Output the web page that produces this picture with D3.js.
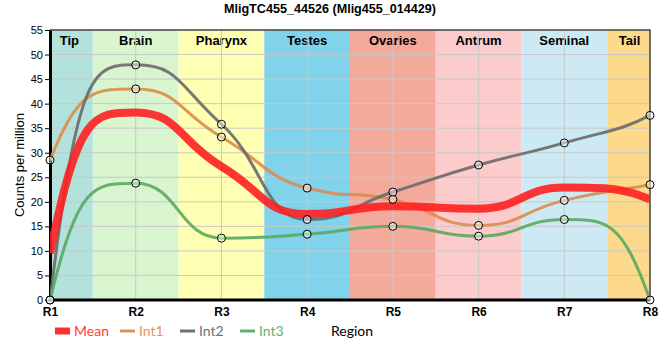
<!DOCTYPE html>
<html><head><meta charset="utf-8">
<script src="https://cdn.jsdelivr.net/npm/d3@7"></script>
<style>body{margin:0;background:#fff}svg{display:block}</style>
</head><body><svg id="c" width="660" height="360"></svg>
<script>
const regions = ["R1","R2","R3","R4","R5","R6","R7","R8"];
const bandNames = ["Tip","Brain","Pharynx","Testes","Ovaries","Antrum","Seminal","Tail"];
const bandColors = ["#b3e2dc","#d9f5cf","#ffffb3","#80d3ea","#f4aa9b","#fccbcb","#cdeaf4","#fdd98b"];
const meanVals = [9.5, 38.2, 27.2, 17.5, 19.1, 18.6, 22.9, 20.5];
const int1Vals = [28.5, 43.0, 33.2, 22.8, 20.5, 15.2, 20.3, 23.5];
const int2Vals = [0, 47.9, 35.8, 16.4, 22.0, 27.5, 32.0, 37.6];
const int3Vals = [0, 23.8, 12.6, 13.4, 15.0, 13.0, 16.4, 0];
const yTicks = [0,5,10,15,20,25,30,35,40,45,50,55];

// smooth curve: flat tangents at local extremes, control points at half spacing
function curveSmooth(context) {
  return {
    lineStart(){ this._p = []; },
    point(x, y){ this._p.push([x, y]); },
    lineEnd(){
      const p = this._p, n = p.length, k = 0.5;
      if (!n) return;
      context.moveTo(p[0][0], p[0][1]);
      if (n < 3) { for (let i = 1; i < n; i++) context.lineTo(p[i][0], p[i][1]); return; }
      const Lc = [], Rc = [];
      for (let i = 1; i < n - 1; i++) {
        const a = p[i-1], b = p[i], c = p[i+1];
        const d0 = b[1] - a[1], d1 = c[1] - b[1];
        const hl = b[0] - a[0], hr = c[0] - b[0];
        let m = 0;
        if (d0 * d1 > 0) {
          m = (c[1] - a[1]) / (c[0] - a[0]);
          const lim = Math.min(Math.abs(d0) / (k*hl), Math.abs(d1) / (k*hr));
          if (Math.abs(m) > lim) m = Math.sign(m) * lim;
        }
        Lc[i] = [b[0] - k*hl, b[1] - k*hl*m];
        Rc[i] = [b[0] + k*hr, b[1] + k*hr*m];
      }
      for (let i = 1; i < n; i++) {
        const a = p[i-1], b = p[i], h = b[0] - a[0];
        let c1, c2;
        if (i === 1) { c2 = Lc[1]; c1 = [a[0] + h/3, c2[1]]; }
        else c1 = Rc[i-1];
        if (i === n - 1) { c2 = [b[0] - h/3, c1[1]]; }
        else if (i !== 1) c2 = Lc[i];
        context.bezierCurveTo(c1[0], c1[1], c2[0], c2[1], b[0], b[1]);
      }
    },
    areaStart(){}, areaEnd(){}
  };
}

const svg = d3.select("#c");
const L = 50, R = 650, T = 30, B = 300;
const x = d3.scalePoint().domain(regions).range([L, R]);
const step = x.step();
const y = d3.scaleLinear().domain([0,55]).range([B, T]);
const FONT = "Liberation Sans, Arial, sans-serif";

// bands
bandNames.forEach((n,i)=>{
  const c = x(regions[i]);
  const x0 = Math.max(L, c - step/2), x1 = Math.min(R, c + step/2);
  svg.append("rect").attr("x",x0).attr("y",T).attr("width",x1-x0).attr("height",B-T).attr("fill",bandColors[i]);
  const lx = i===0 ? (x0+x1)/2-2 : (i===7 ? (x0+x1)/2+1 : c);
  svg.append("text").attr("x",lx).attr("y",T+15).attr("text-anchor","middle")
    .attr("font-family",FONT).attr("font-weight","bold").attr("font-size",13).text(n);
});

// grid
svg.append("g").selectAll("line").data(yTicks).join("line")
  .attr("x1",L).attr("x2",R).attr("y1",d=>y(d)).attr("y2",d=>y(d)).attr("stroke","#c8c8c8").attr("stroke-width",1);
svg.append("g").selectAll("line").data(regions).join("line")
  .attr("y1",T).attr("y2",B).attr("x1",d=>x(d)).attr("x2",d=>x(d)).attr("stroke","#c8c8c8").attr("stroke-width",1);

// frame
svg.append("rect").attr("x",L).attr("y",T).attr("width",R-L).attr("height",B-T).attr("fill","none").attr("stroke","#000").attr("stroke-width",1);

// axes
const yAxis = svg.append("g").attr("transform",`translate(${L},0)`)
  .call(d3.axisLeft(y).tickValues(yTicks).tickSize(5).tickSizeOuter(0));
yAxis.select(".domain").attr("stroke-width",3);
yAxis.selectAll("text").attr("font-family",FONT).attr("font-size",11).attr("fill","#000").attr("dx","1");
const xAxis = svg.append("g").attr("transform",`translate(0,${B})`)
  .call(d3.axisBottom(x).tickSize(0).tickSizeOuter(0).tickPadding(7));
xAxis.select(".domain").attr("stroke-width",3).attr("d",`M${L-1.5},0H${R}`);
xAxis.selectAll("text").attr("font-family",FONT).attr("font-weight","bold").attr("font-size",12).attr("fill","#000");

const line = d3.line().x((d,i)=>x(regions[i])).y(d=>y(d)).curve(curveSmooth);
const series = [
  {name:"Int1", vals:int1Vals, color:"#dc8c4c", w:3, pts:true},
  {name:"Int2", vals:int2Vals, color:"#6a6a6a", w:3, pts:true},
  {name:"Int3", vals:int3Vals, color:"#5aa862", w:3, pts:true},
  {name:"Mean", vals:meanVals, color:"#ff2020", w:8, pts:false}
];
svg.append("clipPath").attr("id","cp").append("rect").attr("x",L).attr("y",T-5).attr("width",R-L).attr("height",B-T+5);
series.forEach(s=>{
  svg.append("path").attr("d",line(s.vals)).attr("fill","none").attr("stroke",s.color)
    .attr("stroke-width",s.w).attr("stroke-opacity",0.9).attr("clip-path","url(#cp)");
});
series.filter(s=>s.pts).forEach(s=>{
  svg.append("g").selectAll("circle").data(s.vals).join("circle")
    .attr("cx",(d,i)=>x(regions[i])).attr("cy",d=>y(d)).attr("r",4)
    .attr("fill","rgba(255,255,255,0.45)").attr("stroke","#000").attr("stroke-width",1);
});

// title
svg.append("text").attr("x",330).attr("y",13).attr("text-anchor","middle")
  .attr("font-family",FONT).attr("font-weight","bold").attr("font-size",12.6).text("MligTC455_44526 (Mlig455_014429)");
// y label
svg.append("text").attr("transform","translate(24,165) rotate(-90)").attr("text-anchor","middle")
  .attr("font-family",FONT).attr("font-size",13).text("Counts per million");
// x label
svg.append("text").attr("x",331).attr("y",336).attr("font-family","Lato, sans-serif").attr("font-size",14).text("Region");

// legend
const leg = [
  {name:"Mean", color:"#ff3030", w:7, x:55, tc:"#ff4040"},
  {name:"Int1", color:"#e0905a", w:3, x:120, tc:"#e8945c"},
  {name:"Int2", color:"#707070", w:3, x:180, tc:"#707080"},
  {name:"Int3", color:"#60b070", w:3, x:240, tc:"#60b070"}
];
leg.forEach(l=>{
  svg.append("line").attr("x1",l.x).attr("x2",l.x+15).attr("y1",331).attr("y2",331).attr("stroke",l.color).attr("stroke-width",l.w);
  svg.append("text").attr("x",l.x+19).attr("y",336).attr("font-family","Lato, sans-serif").attr("font-size",14).attr("fill",l.tc).text(l.name);
});
</script></body></html>
